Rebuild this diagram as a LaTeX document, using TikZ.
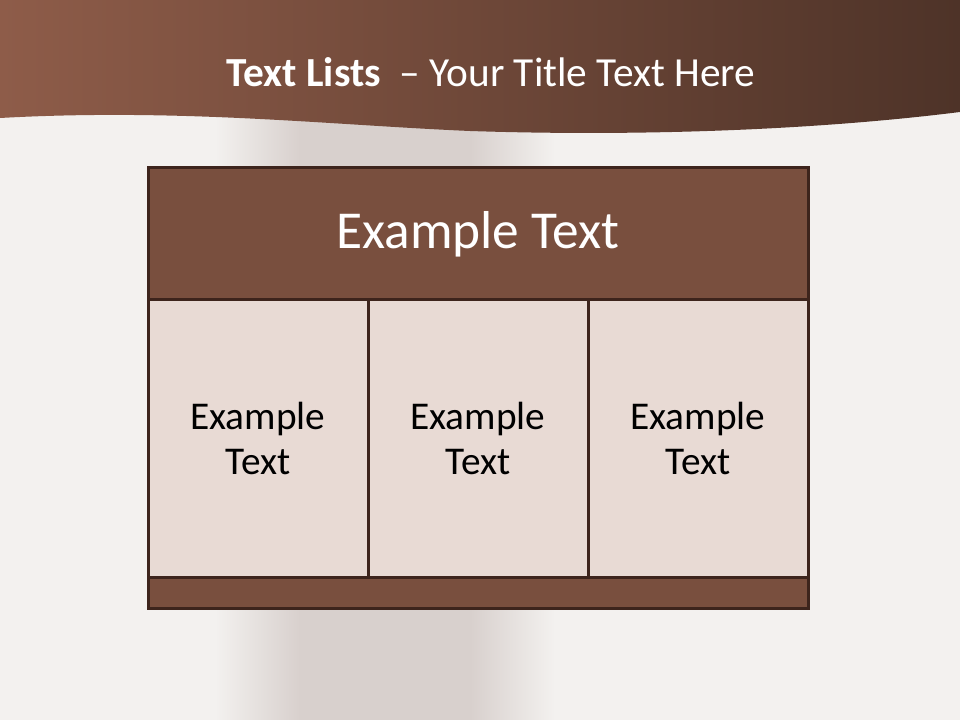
\documentclass[tikz,border=0pt]{standalone}
\usepackage{fontspec}
\setmainfont{Carlito}
\usetikzlibrary{positioning}

\definecolor{pagebg}{HTML}{F3F1EF}
\definecolor{bandgray}{HTML}{D8D0CD}
\definecolor{waveL}{HTML}{8E5C49}
\definecolor{waveD}{HTML}{4E3328}
\definecolor{headfill}{HTML}{794F3E}
\definecolor{edgebrown}{HTML}{3D241C}
\definecolor{cellfill}{HTML}{E8DAD4}

\tikzset{
  frame/.style={draw=edgebrown, line width=2.25pt, inner sep=0pt, outer sep=0pt},
  headbox/.style={frame, fill=headfill, text=white, minimum width=495pt, minimum height=99pt,
    font=\fontsize{40}{46}\selectfont},
  cellbox/.style={frame, fill=cellfill, text=black, minimum width=165pt, minimum height=207.75pt,
    align=center, font=\fontsize{29.5}{34}\selectfont},
  footbox/.style={frame, fill=headfill, minimum width=495pt, minimum height=23.25pt}
}

\begin{document}
\begin{tikzpicture}[x=0.75pt, y=-0.75pt]
\useasboundingbox (0,0) rectangle (960,720);
% page and soft gray band
\fill[pagebg] (0,0) rectangle (960,720);
\shade[left color=pagebg, right color=bandgray] (215,110) rectangle (300,720);
\fill[bandgray] (300,110) rectangle (470,720);
\shade[left color=bandgray, right color=pagebg] (470,110) rectangle (555,720);

% top wave
\shade[left color=waveL, right color=waveD] (0,0) -- (0,118)
  .. controls (180,108) and (330,125) .. (470,131)
  .. controls (620,136) and (800,132) .. (960,112) -- (960,0) -- cycle;
\node[text=white, anchor=base, font=\fontsize{31}{37}\selectfont] (title) at (491,87)
  {\textbf{Text Lists}\ \ – Your Title Text Here};

% table
\node[headbox, anchor=north west] (head) at (148,168) {Example Text};
\node[cellbox, anchor=north west] (cellA) at (head.south west) {Example\\Text};
\node[cellbox, anchor=north west] (cellB) at (cellA.north east) {Example\\Text};
\node[cellbox, anchor=north west] (cellC) at (cellB.north east) {Example\\Text};
\node[footbox, anchor=north west] (foot) at (cellA.south west) {};
\end{tikzpicture}
\end{document}
